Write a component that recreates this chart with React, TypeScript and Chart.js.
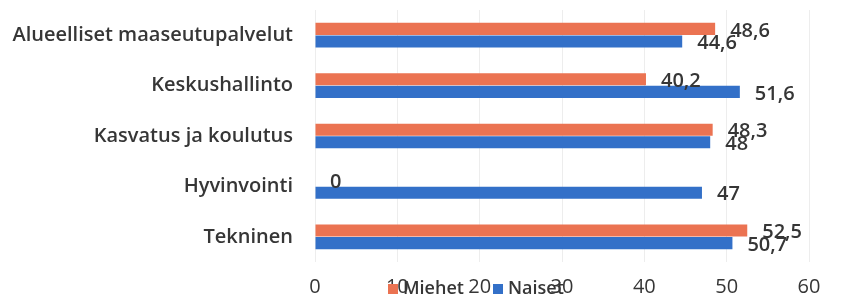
import React, { useEffect, useRef } from "react";
import { Chart, registerables } from "chart.js";

Chart.register(...registerables);

const categories = [
  "Alueelliset maaseutupalvelut",
  "Keskushallinto",
  "Kasvatus ja koulutus",
  "Hyvinvointi",
  "Tekninen",
];
const miehet = [48.6, 40.2, 48.3, 0, 52.5];
const naiset = [44.6, 51.6, 48, 47, 50.7];
const seriesNames = ["Miehet", "Naiset"];
const colors = ["#EB7352", "#3370C8"];
const xTicks = [0, 10, 20, 30, 40, 50, 60];

const TEXT = "#363636";
const FONT = "'Open Sans', 'Noto Sans', sans-serif";

const valueLabels = {
  id: "valueLabels",
  afterDatasetsDraw(chart: any) {
    const ctx = chart.ctx;
    ctx.save();
    ctx.font = `600 20px ${FONT}`;
    ctx.fillStyle = TEXT;
    ctx.textAlign = "left";
    ctx.textBaseline = "middle";
    chart.data.datasets.forEach((ds: any, di: number) => {
      const meta = chart.getDatasetMeta(di);
      meta.data.forEach((el: any, i: number) => {
        const v = ds.data[i];
        const txt = String(v).replace(".", ",");
        ctx.fillText(txt, el.x + 15, el.y + 2);
      });
    });
    ctx.restore();
  },
};

const customLegend = {
  id: "customLegend",
  afterDraw(chart: any) {
    const ctx = chart.ctx;
    ctx.save();
    ctx.font = `600 18px ${FONT}`;
    ctx.textBaseline = "middle";
    ctx.textAlign = "left";
    const y = 289;
    const items = [
      { x: 388, label: seriesNames[0], color: colors[0] },
      { x: 493, label: seriesNames[1], color: colors[1] },
    ];
    items.forEach((it) => {
      ctx.fillStyle = it.color;
      ctx.fillRect(it.x, y - 5, 10, 10);
      ctx.fillStyle = TEXT;
      ctx.fillText(it.label, it.x + 15, y);
    });
    ctx.restore();
  },
};

export default function App() {
  const ref = useRef<HTMLCanvasElement>(null);
  useEffect(() => {
    document.body.style.margin = "0";
    const chart = new Chart(ref.current!, {
      type: "bar",
      data: {
        labels: categories,
        datasets: [
          {
            label: seriesNames[0],
            data: miehet,
            backgroundColor: colors[0],
            categoryPercentage: 0.5,
            barPercentage: 0.96,
          },
          {
            label: seriesNames[1],
            data: naiset,
            backgroundColor: colors[1],
            categoryPercentage: 0.5,
            barPercentage: 0.96,
          },
        ],
      },
      options: {
        indexAxis: "y",
        animation: false,
        responsive: false,
        maintainAspectRatio: false,
        layout: { padding: { top: 10, right: 44, left: 0, bottom: 0 } },
        plugins: {
          legend: { display: false },
          tooltip: { enabled: false },
        },
        scales: {
          x: {
            min: 0,
            max: 60,
            afterBuildTicks(scale: any) {
              scale.ticks = xTicks.map((v) => ({ value: v }));
            },
            afterFit(scale: any) {
              scale.height = 38;
              scale.paddingLeft = 0;
              scale.paddingRight = 0;
            },
            grid: { color: "#ededed", drawTicks: false },
            border: { display: false },
            ticks: {
              color: TEXT,
              font: { family: FONT, size: 20, weight: "500" },
              padding: 13,
            },
          },
          y: {
            afterFit(scale: any) {
              scale.width = 315;
              scale.paddingTop = 0;
              scale.paddingBottom = 0;
            },
            grid: { display: false },
            border: { display: false },
            ticks: {
              color: TEXT,
              font: { family: FONT, size: 20, weight: "600" },
              padding: 14,
            },
          },
        },
      },
      plugins: [valueLabels, customLegend],
    });
    return () => chart.destroy();
  }, []);
  return <canvas ref={ref} width={853} height={300} style={{ display: "block" }} />;
}
